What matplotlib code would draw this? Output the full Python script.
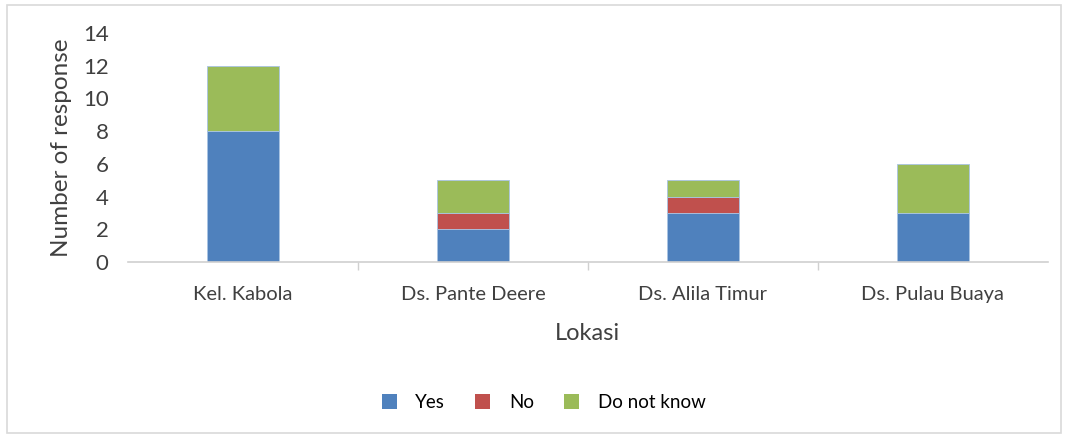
import numpy as np
import matplotlib.pyplot as plt
from matplotlib.patches import Rectangle, Patch

lokasi = ["Kel. Kabola", "Ds. Pante Deere", "Ds. Alila Timur", "Ds. Pulau Buaya"]
yes = [8, 2, 3, 3]
no = [0, 1, 1, 0]
do_not_know = [4, 2, 1, 3]

warna = {"Yes": "#4f81bd", "No": "#c0504d", "Do not know": "#9bbb59"}

plt.rcParams["font.family"] = ["Lato", "DejaVu Sans"]

fig = plt.figure(figsize=(10.66, 4.40), dpi=100)
ax = fig.add_axes([0.120, 0.4045, 0.863, 0.5205])

x = np.arange(len(lokasi))
lebar = 0.31
bawah = np.zeros(len(lokasi))
for nama, nilai in [("Yes", yes), ("No", no), ("Do not know", do_not_know)]:
    ax.bar(x, nilai, lebar, bottom=bawah, color=warna[nama],
           edgecolor="#a9c4e4", linewidth=0.6, zorder=2)
    bawah += np.array(nilai)

ax.set_xlim(-0.5, len(lokasi) - 0.5)
ax.set_ylim(0, 14)
ax.set_yticks(range(0, 15, 2))
ax.set_xticks(x)
ax.set_xticklabels(lokasi, fontsize=14.5, color="#404040")
ax.tick_params(axis="x", length=0, pad=17)
ax.tick_params(axis="y", length=0, labelsize=16, colors="#404040", pad=14)

# tanda pemisah kategori di bawah sumbu
ax.set_xticks(np.arange(0.5, len(lokasi) - 1, 1), minor=True)
ax.tick_params(axis="x", which="minor", length=6, color="#d0d0d0", width=1)

for s in ["top", "right", "left"]:
    ax.spines[s].set_visible(False)
ax.spines["bottom"].set_color("#d0d0d0")
ax.spines["bottom"].set_linewidth(1.2)

ax.set_ylabel("Number of response", fontsize=17.5, color="#404040", labelpad=8)
ax.set_xlabel("Lokasi", fontsize=17, color="#404040", labelpad=15)

handles = [Patch(facecolor=warna[k], label=k) for k in warna]
fig.legend(handles=handles, loc="center", bbox_to_anchor=(0.51, 0.085), ncol=3,
           frameon=False, fontsize=13.5, handlelength=0.8, handleheight=0.8,
           columnspacing=1.6, handletextpad=1.0)

fig.patches.append(Rectangle((0.007, 0.016), 0.988, 0.972, transform=fig.transFigure,
                             fill=False, edgecolor="#d9d9d9", linewidth=1.2))

plt.savefig("out.png", dpi=100)
